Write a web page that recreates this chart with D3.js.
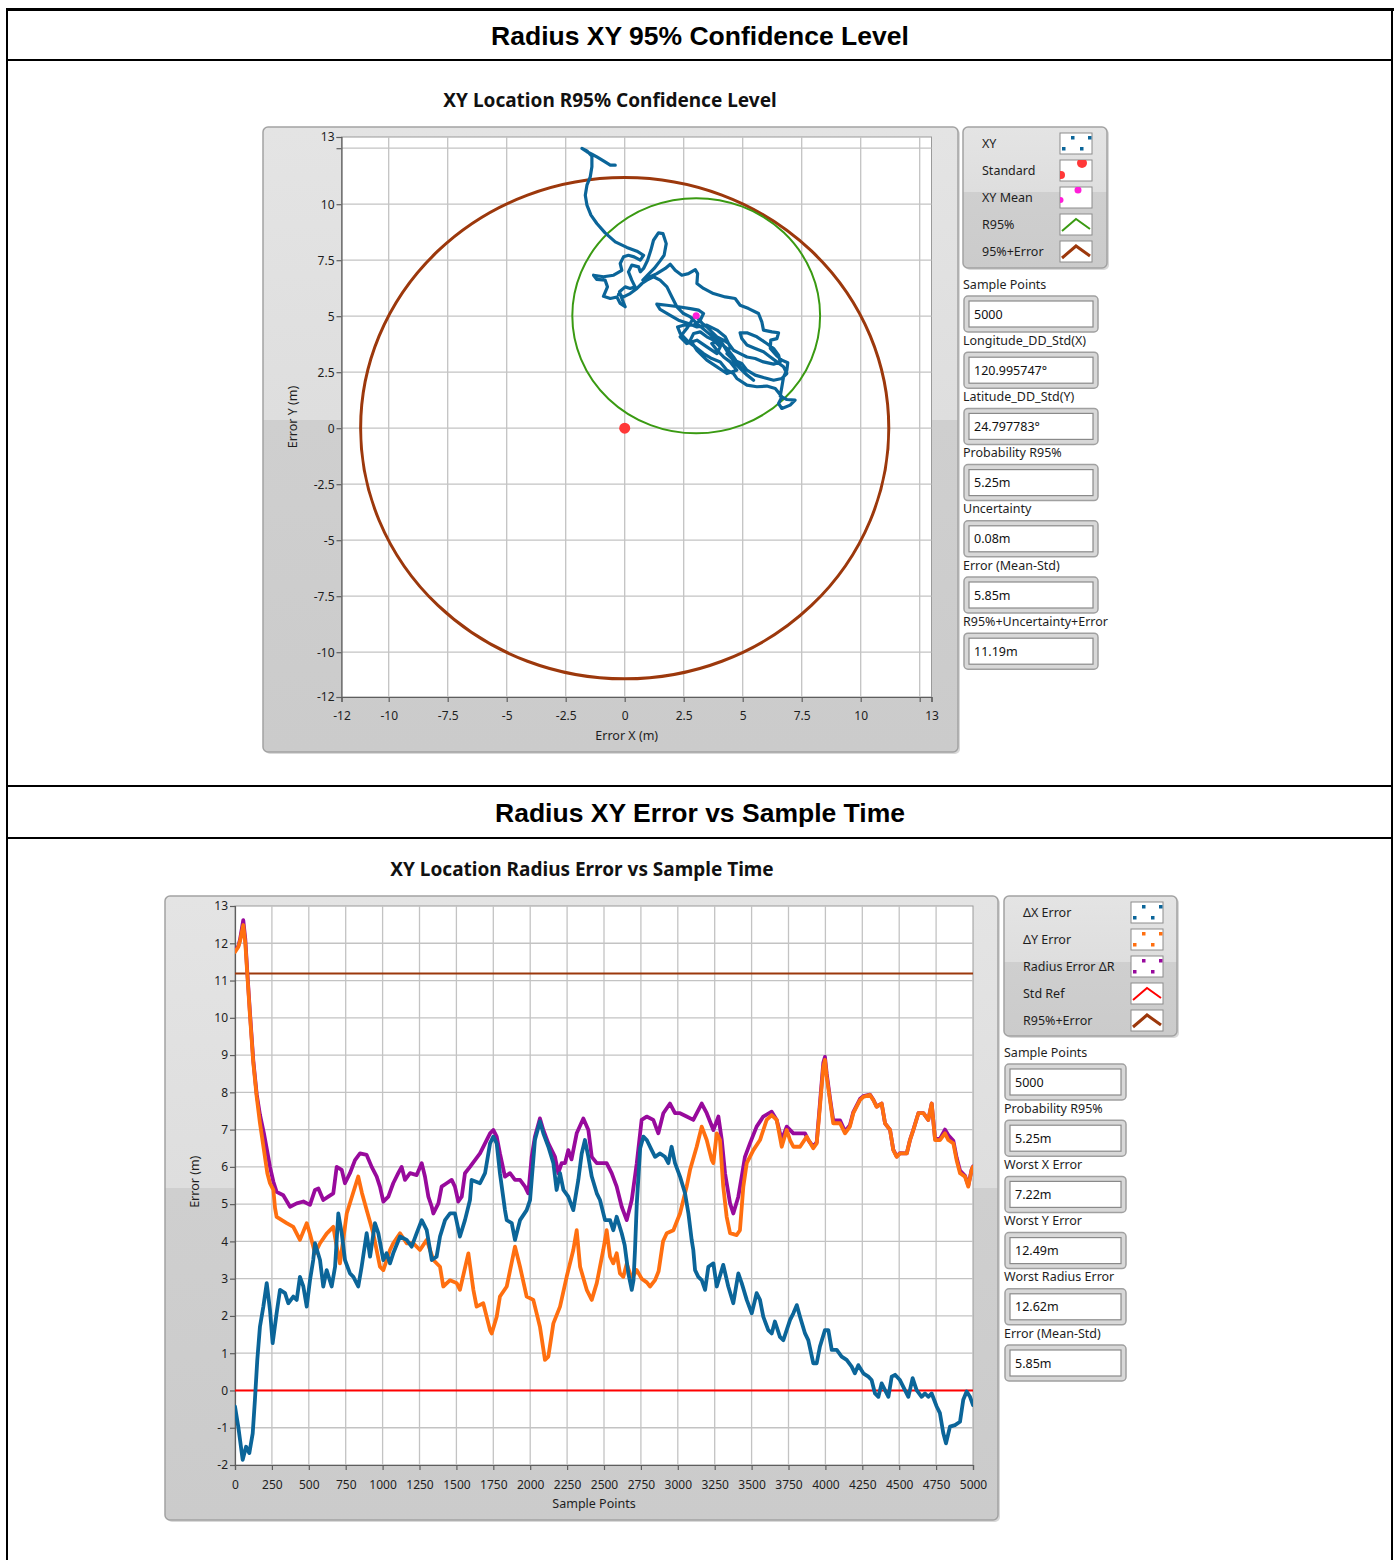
<!DOCTYPE html>
<html>
<head>
<meta charset="utf-8">
<script src="https://cdn.jsdelivr.net/npm/d3@7"></script>
<style>
  body { margin: 0; background: #fff; }
  svg text { font-family: "Noto Sans", "DejaVu Sans", sans-serif; }
</style>
</head>
<body>
<svg id="chart" width="1398" height="1560"></svg>
<script>
// ---------- summary values ----------
const samplePoints = 5000;
const meanXY = [3.03, 5.02];          // XY mean (m)
const standardXY = [0, 0];            // standard reference point (m)
const r95 = 5.25;                     // probability R95% (m)
const uncertainty = 0.08;             // (m)
const errorMeanStd = 5.85;            // (m)
const r95PlusError = 11.19;           // R95% + uncertainty + error (m)
const longitudeStd = "120.995747°";
const latitudeStd = "24.797783°";
const worstX = 7.22, worstY = 12.49, worstR = 12.62;

// ---------- axis ticks ----------
const xyTicks = [-12, -10, -7.5, -5, -2.5, 0, 2.5, 5, 7.5, 10, 12.5, 13];
const xyGrid = [-10, -7.5, -5, -2.5, 0, 2.5, 5, 7.5, 10, 12.5];
const sampleTicks = d3.range(0, 5001, 250);
const errorTicks = d3.range(-2, 14, 1);

// ---------- XY track of the position error (m) ----------
const xyTrack = [
  [-0.40,11.74],[-0.61,11.74],[-0.90,11.93],[-1.18,12.11],[-1.39,12.23],[-1.60,12.34],[-1.81,12.49],
  [-1.60,12.38],[-1.39,12.14],[-1.39,11.67],[-1.46,11.22],[-1.60,10.85],[-1.67,10.40],[-1.60,9.96],
  [-1.43,9.51],[-1.18,9.14],[-0.83,8.72],[-0.40,8.32],[0.09,8.07],[0.52,7.90],[0.80,7.72],[0.66,7.50],
  [0.40,7.65],[0.16,7.72],[-0.05,7.65],[-0.19,7.35],[-0.12,7.05],[-0.47,6.83],[-0.90,6.76],[-1.32,6.83],
  [-1.18,6.64],[-0.83,6.61],[-0.73,6.31],[-0.90,5.89],[-0.61,5.79],[-0.33,5.86],[-0.19,5.57],[0.02,5.42],
  [-0.12,5.79],[-0.22,6.09],[0.02,6.31],[0.23,6.24],[0.44,6.31],[0.30,6.61],[0.16,6.98],[0.30,7.28],
  [0.59,7.20],[0.66,6.98],[0.80,7.13],[0.97,7.50],[1.11,7.95],[1.22,8.39],[1.43,8.72],[1.62,8.69],
  [1.76,8.24],[1.67,7.72],[1.50,7.47],[1.25,7.13],[0.97,6.83],[0.77,6.61],[1.01,6.73],[1.36,6.90],
  [1.72,7.13],[1.93,7.32],[2.14,7.05],[2.42,6.83],[2.70,6.90],[2.99,7.08],[3.09,6.90],[3.06,6.46],
  [3.34,6.24],[3.76,6.01],[4.26,5.86],[4.68,5.79],[4.89,5.49],[5.25,5.34],[5.67,5.12],[5.81,4.75],
  [5.88,4.38],[6.24,4.30],[6.52,4.26],[6.45,4.00],[6.19,3.93],[6.17,3.56],[6.42,3.26],[6.66,3.04],
  [6.91,2.92],[6.87,2.59],[6.73,2.29],[6.66,1.85],[6.59,1.43],[6.87,1.28],[7.22,1.25],[7.01,1.03],
  [6.66,0.88],[6.52,1.10],[6.66,1.40],[6.38,1.77],[6.02,1.88],[5.60,1.85],[5.18,1.92],[4.75,2.22],
  [4.61,2.44],[4.33,2.59],[4.05,2.96],[3.69,3.11],[3.34,3.33],[2.99,3.63],[2.70,3.85],[2.35,4.23],
  [2.24,4.52],[2.49,4.60],[2.92,4.60],[3.20,4.82],[3.34,5.12],[3.13,5.27],[2.78,5.34],[2.28,5.42],
  [1.79,5.49],[1.36,5.54],[1.50,5.30],[1.93,5.04],[2.28,4.82],[2.70,4.67],[3.06,4.52],[3.48,4.60],
  [3.91,4.38],[4.26,4.08],[4.47,3.63],[4.33,3.33],[4.61,3.04],[4.96,2.89],[5.18,2.59],[5.53,2.37],
  [5.88,2.26],[6.31,2.14],[6.66,2.22],[6.87,2.44],[6.73,2.74],[6.45,2.96],[6.17,3.18],[5.88,3.41],
  [5.53,3.56],[5.18,3.71],[4.96,4.00],[4.89,4.26],[5.18,4.26],[5.60,4.08],[6.02,3.78],[6.31,3.56],
  [6.52,3.26],[6.59,2.96],[6.31,2.86],[5.88,2.96],[5.53,3.11],[5.18,3.18],[4.89,3.33],[4.61,3.48],
  [4.40,3.78],[4.19,3.93],[3.91,4.08],[3.69,4.30],[3.48,4.52],[3.27,4.70],[2.99,5.04],
  [2.63,4.45],[2.35,4.08],[2.63,3.78],[3.06,3.93],[3.48,3.63],[3.91,3.33],[4.05,3.63],[3.76,3.93],
  [3.48,4.08],[3.20,4.30],[2.92,4.23],[2.78,3.93],[3.06,3.48],[3.48,3.04],[3.91,2.74],[4.33,2.44],
  [4.75,2.59],[4.47,2.96],[4.19,3.18],[3.91,3.48],[3.69,3.78],[4.05,3.93],[4.40,3.33],[4.68,2.89],
  [5.11,2.44],[5.46,2.14],[5.18,2.37],[4.89,2.74],[4.61,3.18],[4.33,3.56],[3.91,3.93],[3.48,4.30],
  [3.06,4.67],[2.78,4.97],
  [2.49,5.12],[2.21,5.42],[2.00,5.86],[1.79,6.31],[1.50,6.61],[1.22,6.76],[0.94,6.61],[0.73,6.46],
  [0.52,6.24],[0.23,6.01],[-0.05,5.86],[-0.26,5.98]
];

// ---------- errors vs sample point: [sample, metres] ----------
const deltaX = [
  [0,-0.43],[22,-0.97],[52,-1.86],[75,-1.51],[97,-1.68],[120,-1.15],[135,-0.25],[151,0.82],[169,1.71],
  [192,2.25],[215,2.88],[237,2.16],[255,1.27],[282,2.07],[305,2.70],[339,2.61],[361,2.34],[395,2.52],
  [418,2.43],[440,3.05],[463,2.79],[486,2.25],[508,2.96],[530,3.50],[542,3.95],[576,3.50],[598,2.79],
  [621,3.23],[655,2.79],[678,3.32],[700,4.75],[723,4.22],[745,3.50],[779,3.14],[802,3.05],[835,2.79],
  [858,3.32],[892,4.22],[915,3.59],[948,4.49],[971,4.22],[1005,3.50],[1027,3.68],[1050,3.41],[1072,3.68],
  [1118,4.13],[1163,4.04],[1197,3.86],[1231,4.22],[1265,4.57],[1299,4.30],[1333,3.50],[1366,3.59],
  [1389,4.13],[1423,4.57],[1457,4.75],[1490,4.75],[1524,4.13],[1558,4.57],[1592,5.11],[1603,5.65],
  [1660,5.56],[1694,5.83],[1728,6.63],[1750,6.81],[1773,6.63],[1795,5.83],[1829,4.84],[1841,4.57],
  [1875,4.49],[1897,4.04],[1931,4.57],[1976,4.84],[1999,5.11],[2010,5.65],[2032,6.72],[2066,7.22],
  [2089,6.90],[2123,6.54],[2157,6.10],[2179,5.38],[2202,5.83],[2225,5.38],[2258,5.20],[2292,4.84],
  [2326,5.65],[2349,6.36],[2371,6.72],[2394,6.27],[2417,5.74],[2451,5.29],[2473,5.11],[2507,4.57],
  [2541,4.57],[2563,4.30],[2586,4.66],[2620,4.22],[2640,3.90],[2665,3.14],[2688,2.70],[2700,2.96],
  [2710,3.77],[2722,5.00],[2745,6.50],[2767,6.81],[2790,6.72],[2823,6.45],[2846,6.27],[2880,6.36],
  [2913,6.27],[2936,6.10],[2958,6.54],[2981,6.10],[3015,5.74],[3049,5.29],[3072,4.75],[3094,4.04],
  [3105,3.77],[3117,3.23],[3139,3.05],[3162,2.96],[3185,2.70],[3207,3.32],[3241,3.41],[3264,2.79],
  [3308,3.37],[3342,2.79],[3376,2.34],[3410,3.14],[3433,2.88],[3467,2.43],[3501,2.07],[3534,2.61],
  [3557,2.43],[3579,1.98],[3613,1.62],[3636,1.53],[3658,1.85],[3692,1.44],[3715,1.35],[3760,1.89],
  [3783,2.07],[3806,2.29],[3828,1.98],[3862,1.53],[3884,1.35],[3918,0.73],[3941,0.73],[3963,1.18],
  [3997,1.62],[4020,1.62],[4043,1.09],[4077,1.09],[4110,0.91],[4144,0.82],[4178,0.64],[4200,0.46],
  [4223,0.68],[4257,0.46],[4291,0.37],[4313,0.28],[4336,-0.08],[4359,-0.17],[4381,0.19],[4404,0.01],
  [4427,-0.17],[4449,0.37],[4472,0.42],[4505,0.28],[4539,0.01],[4562,-0.17],[4591,0.33],[4618,0.01],
  [4652,-0.17],[4675,-0.08],[4697,-0.17],[4720,-0.08],[4754,-0.43],[4776,-0.61],[4799,-1.15],
  [4817,-1.42],[4844,-0.97],[4878,-0.93],[4912,-0.84],[4934,-0.25],[4957,-0.03],[4980,-0.17],[5000,-0.39]
];

const deltaY = [
  [0,11.77],[22,11.90],[34,12.06],[56,12.49],[70,12.00],[83,11.19],[102,10.03],[124,8.79],[147,7.88],
  [169,7.18],[196,6.45],[219,5.83],[237,5.56],[260,5.38],[271,4.90],[282,4.66],[350,4.49],[395,4.39],
  [440,4.04],[486,4.49],[508,4.20],[542,3.68],[576,3.95],[621,4.21],[666,4.39],[689,3.86],[711,3.41],
  [745,4.39],[757,4.75],[800,5.30],[835,5.74],[860,5.30],[892,4.84],[937,4.21],[982,3.32],[1005,3.23],
  [1050,3.77],[1072,3.95],[1118,4.22],[1163,3.95],[1208,3.95],[1253,3.77],[1299,4.04],[1344,3.50],
  [1389,3.32],[1411,2.79],[1457,2.96],[1502,2.88],[1524,2.70],[1581,3.68],[1615,2.70],[1637,2.25],
  [1682,2.34],[1728,1.62],[1739,1.53],[1773,1.98],[1795,2.52],[1841,2.79],[1897,3.86],[1931,3.32],
  [1976,2.52],[2021,2.43],[2066,1.71],[2100,0.82],[2123,0.91],[2157,1.80],[2202,2.25],[2247,3.05],
  [2292,3.77],[2315,4.30],[2338,3.32],[2383,2.70],[2417,2.43],[2451,2.88],[2495,3.77],[2518,4.30],
  [2541,3.59],[2563,3.41],[2586,3.68],[2608,3.14],[2631,3.05],[2654,3.40],[2688,3.00],[2722,3.23],
  [2755,3.00],[2790,2.90],[2812,2.79],[2846,2.96],[2870,3.20],[2900,4.00],[2925,4.22],[2970,4.30],
  [3015,4.75],[3060,5.47],[3083,5.92],[3128,6.54],[3162,7.08],[3196,6.72],[3230,6.18],[3241,6.10],
  [3264,6.90],[3286,6.72],[3308,5.47],[3331,4.66],[3354,4.22],[3399,4.17],[3421,4.30],[3444,5.47],
  [3467,6.10],[3512,6.45],[3557,6.72],[3602,7.26],[3636,7.39],[3670,7.26],[3704,6.54],[3738,6.99],
  [3760,6.72],[3783,6.54],[3828,6.54],[3873,6.81],[3918,6.50],[3941,6.63],[3963,7.61],[3986,8.69],
  [3997,8.87],[4009,8.42],[4031,7.79],[4053,7.17],[4099,7.17],[4133,6.90],[4166,7.08],[4189,7.44],
  [4234,7.79],[4257,7.88],[4302,7.93],[4325,7.79],[4347,7.61],[4381,7.70],[4404,7.17],[4438,6.99],
  [4460,6.45],[4483,6.27],[4505,6.36],[4551,6.36],[4573,6.72],[4596,6.99],[4630,7.44],[4664,7.44],
  [4697,7.26],[4720,7.70],[4743,6.72],[4776,6.72],[4810,6.90],[4833,6.72],[4867,6.63],[4889,6.18],
  [4912,5.83],[4946,5.74],[4968,5.47],[4991,5.92],[5000,6.00]
];

const deltaR = [
  [0,11.80],[22,11.92],[34,12.10],[56,12.62],[70,12.10],[83,11.25],[102,10.10],[124,8.85],[147,7.95],
  [169,7.40],[196,6.90],[219,6.40],[237,6.00],[260,5.60],[282,5.33],[327,5.24],[373,4.93],[418,5.02],
  [463,5.07],[508,4.98],[542,5.38],[565,5.42],[598,5.11],[632,5.20],[666,5.29],[689,6.00],[723,5.92],
  [745,5.56],[779,5.83],[813,6.18],[847,6.36],[892,6.32],[926,6.00],[960,5.74],[982,5.47],[1005,5.07],
  [1039,5.20],[1072,5.56],[1106,5.83],[1129,6.00],[1152,5.65],[1186,5.83],[1231,5.78],[1265,6.10],
  [1287,5.74],[1310,5.20],[1333,4.93],[1344,4.75],[1378,5.02],[1400,5.47],[1434,5.56],[1468,5.65],
  [1490,5.47],[1513,5.07],[1536,5.20],[1558,5.83],[1592,6.00],[1626,6.18],[1660,6.36],[1694,6.63],
  [1728,6.90],[1750,6.99],[1773,6.81],[1795,6.36],[1829,5.74],[1863,5.83],[1897,5.65],[1931,5.65],
  [1965,5.47],[1987,5.29],[2010,6.27],[2032,6.81],[2066,7.30],[2089,6.99],[2123,6.63],[2168,6.27],
  [2190,5.83],[2213,6.10],[2236,6.10],[2258,6.45],[2280,6.20],[2315,6.90],[2360,7.30],[2394,6.99],
  [2417,6.27],[2451,6.10],[2518,6.10],[2552,5.83],[2586,5.47],[2620,4.93],[2654,4.57],[2688,5.11],
  [2722,6.10],[2755,7.26],[2789,7.35],[2834,7.26],[2868,6.90],[2902,7.44],[2947,7.70],[2981,7.44],
  [3015,7.44],[3060,7.35],[3105,7.26],[3162,7.70],[3196,7.44],[3241,6.99],[3275,7.35],[3298,6.72],
  [3320,5.83],[3354,5.02],[3376,4.75],[3410,5.20],[3433,5.74],[3455,6.27],[3489,6.63],[3534,7.08],
  [3579,7.35],[3636,7.48],[3670,7.26],[3704,6.72],[3738,7.08],[3783,6.90],[3828,6.90],[3862,6.90],
  [3884,6.72],[3918,6.54],[3941,6.66],[3963,7.70],[3986,8.80],[3997,8.95],[4009,8.50],[4031,7.85],
  [4053,7.25],[4099,7.25],[4133,6.95],[4166,7.12],[4189,7.47],[4234,7.82],[4257,7.90],[4302,7.94],
  [4325,7.80],[4347,7.62],[4381,7.70],[4404,7.17],[4438,6.99],[4460,6.46],[4483,6.28],[4505,6.37],
  [4551,6.36],[4573,6.72],[4596,7.00],[4630,7.44],[4664,7.44],[4697,7.26],[4720,7.70],[4743,6.75],
  [4776,6.75],[4810,7.00],[4833,6.85],[4867,6.70],[4889,6.25],[4912,5.90],[4946,5.76],[4968,5.50],
  [4991,5.93],[5000,6.01]
];

// ---------- colours ----------
const C = {
  blue: "#0b6599", orange: "#ff6f10", purple: "#980a9c", red: "#ff1a1a",
  green: "#3a9a12", brown: "#9c380c", magenta: "#ff1fd8",
  grid: "#c3c3c3", axis: "#5e5e5e", text: "#1e1e1e"
};

const svg = d3.select("#chart");
const defs = svg.append("defs");

// ---------- page frame ----------
const frame = svg.append("g").attr("stroke", "#000").attr("fill", "none");
frame.append("line").attr("x1", 6).attr("x2", 1394).attr("y1", 9.5).attr("y2", 9.5).attr("stroke-width", 3);
frame.append("line").attr("x1", 7).attr("x2", 7).attr("y1", 8).attr("y2", 1560).attr("stroke-width", 2);
frame.append("line").attr("x1", 1392).attr("x2", 1392).attr("y1", 8).attr("y2", 1560).attr("stroke-width", 2);
[60, 786, 838].forEach(y =>
  frame.append("line").attr("x1", 6).attr("x2", 1393).attr("y1", y).attr("y2", y).attr("stroke-width", 2));

svg.append("text").attr("x", 700).attr("y", 45).attr("text-anchor", "middle")
  .style("font-family", "'Liberation Sans', Arial, sans-serif").style("font-weight", "bold")
  .style("font-size", "26.5px").attr("fill", "#000").text("Radius XY 95% Confidence Level");
svg.append("text").attr("x", 700).attr("y", 822).attr("text-anchor", "middle")
  .style("font-family", "'Liberation Sans', Arial, sans-serif").style("font-weight", "bold")
  .style("font-size", "26.5px").attr("fill", "#000").text("Radius XY Error vs Sample Time");

// ---------- helpers ----------
let gradId = 0;
function panel(x, y, w, h, split) {
  const id = "pg" + (gradId++);
  const g = defs.append("linearGradient").attr("id", id).attr("x1", 0).attr("y1", 0).attr("x2", 0).attr("y2", 1);
  g.append("stop").attr("offset", 0).attr("stop-color", "#e4e4e4");
  g.append("stop").attr("offset", split).attr("stop-color", "#dedede");
  g.append("stop").attr("offset", split).attr("stop-color", "#cfcfcf");
  g.append("stop").attr("offset", 1).attr("stop-color", "#cbcbcb");
  svg.append("rect").attr("x", x + 2).attr("y", y + 2).attr("width", w).attr("height", h)
    .attr("rx", 5).attr("fill", "#d9d9d9");
  svg.append("rect").attr("x", x).attr("y", y).attr("width", w).attr("height", h)
    .attr("rx", 5).attr("fill", `url(#${id})`).attr("stroke", "#a2a2a2").attr("stroke-width", 1.5);
}

function styleAxis(sel) {
  sel.select(".domain").attr("stroke", C.axis).attr("stroke-width", 1.2);
  sel.selectAll(".tick line").attr("stroke", C.axis).attr("stroke-width", 1.2);
  sel.selectAll(".tick text").attr("fill", C.text).style("font-size", "12px")
    .style("font-family", "'Noto Sans', sans-serif");
}

function swatch(x, y, kind, color) {
  const g = svg.append("g").attr("transform", `translate(${x},${y})`);
  const cid = "sw" + (gradId++);
  defs.append("clipPath").attr("id", cid).append("rect").attr("width", 32).attr("height", 21);
  g.append("rect").attr("width", 32).attr("height", 21).attr("fill", "#fff")
    .attr("stroke", "#8c8c8c").attr("stroke-width", 1);
  const inner = g.append("g").attr("clip-path", `url(#${cid})`);
  if (kind === "dots") {
    [[11, 3], [28, 3], [2, 14], [20, 14]].forEach(([dx, dy]) =>
      inner.append("rect").attr("x", dx).attr("y", dy).attr("width", 3.5).attr("height", 3.5).attr("fill", color));
  } else if (kind === "bigdot") {
    inner.append("circle").attr("cx", 22).attr("cy", 3).attr("r", 5).attr("fill", color);
    inner.append("circle").attr("cx", 1).attr("cy", 15).attr("r", 4).attr("fill", color);
  } else if (kind === "smalldot") {
    inner.append("circle").attr("cx", 18).attr("cy", 3).attr("r", 3.5).attr("fill", color);
    inner.append("circle").attr("cx", 0.5).attr("cy", 13).attr("r", 3).attr("fill", color);
  } else {
    inner.append("polyline").attr("points", "2,17 16,5 30,15").attr("fill", "none")
      .attr("stroke", color).attr("stroke-width", kind === "thick" ? 3 : 2);
  }
}

function legend(x, y, w, h, split, rows, textX, swX) {
  panel(x, y, w, h, split);
  rows.forEach((r, i) => {
    const cy = y + 16 + i * 27;
    svg.append("text").attr("x", textX).attr("y", cy + 4.5).attr("fill", C.text)
      .style("font-size", "12.5px").text(r.label);
    swatch(swX, cy - 10, r.kind, r.color);
  });
}

function indicators(x, y0, w, items) {
  items.forEach((it, i) => {
    const ly = y0 + i * 56.2;
    svg.append("text").attr("x", x).attr("y", ly + 4.5).attr("fill", C.text)
      .style("font-size", "12.5px").text(it[0]);
    const by = ly + 12;
    svg.append("rect").attr("x", x + 1).attr("y", by).attr("width", w).attr("height", 36)
      .attr("rx", 4).attr("fill", "#d8d8d8").attr("stroke", "#a0a0a0").attr("stroke-width", 1.5);
    svg.append("rect").attr("x", x + 6).attr("y", by + 5).attr("width", w - 10).attr("height", 26)
      .attr("fill", "#fff").attr("stroke", "#8a8a8a").attr("stroke-width", 1.2);
    svg.append("text").attr("x", x + 11).attr("y", by + 22.5).attr("fill", "#111")
      .style("font-size", "12.5px").text(it[1]);
  });
}

// =============== XY confidence chart ===============
const xS = d3.scaleLinear().domain([-12, 13]).range([341.5, 931.5]);
const yS = d3.scaleLinear().domain([-12, 13]).range([697, 137]);

panel(263, 127, 695, 625, 0.469);
svg.append("rect").attr("x", xS(-12)).attr("y", yS(13)).attr("width", xS(13) - xS(-12))
  .attr("height", yS(-12) - yS(13)).attr("fill", "#fff").attr("stroke", "#9a9a9a");

const g1 = svg.append("g");
g1.selectAll(".gx").data(xyGrid).join("line")
  .attr("x1", d => xS(d)).attr("x2", d => xS(d)).attr("y1", yS(13)).attr("y2", yS(-12))
  .attr("stroke", C.grid).attr("stroke-width", 1.3);
g1.selectAll(".gy").data(xyGrid).join("line")
  .attr("y1", d => yS(d)).attr("y2", d => yS(d)).attr("x1", xS(-12)).attr("x2", xS(13))
  .attr("stroke", C.grid).attr("stroke-width", 1.3);

const fmtXY = d => d === 12.5 ? "" : String(d);
svg.append("g").attr("transform", `translate(${xS(-12)},0)`)
  .call(d3.axisLeft(yS).tickValues(xyTicks).tickSize(5).tickPadding(2).tickFormat(fmtXY)).call(styleAxis);
svg.append("g").attr("transform", `translate(0,${yS(-12)})`)
  .call(d3.axisBottom(xS).tickValues(xyTicks).tickSize(5).tickPadding(9).tickFormat(fmtXY)).call(styleAxis);

defs.append("clipPath").attr("id", "clipXY").append("rect")
  .attr("x", xS(-12)).attr("y", yS(13)).attr("width", xS(13) - xS(-12)).attr("height", yS(-12) - yS(13));
const plotXY = svg.append("g").attr("clip-path", "url(#clipXY)");

// R95% + uncertainty + error circle around the standard point
plotXY.append("ellipse")
  .attr("cx", xS(standardXY[0])).attr("cy", yS(standardXY[1]))
  .attr("rx", xS(r95PlusError) - xS(0)).attr("ry", yS(0) - yS(r95PlusError))
  .attr("fill", "none").attr("stroke", C.brown).attr("stroke-width", 3);
// R95% circle around the mean position
plotXY.append("ellipse")
  .attr("cx", xS(meanXY[0])).attr("cy", yS(meanXY[1]))
  .attr("rx", xS(r95) - xS(0)).attr("ry", yS(0) - yS(r95))
  .attr("fill", "none").attr("stroke", C.green).attr("stroke-width", 2);

plotXY.append("path").datum(xyTrack)
  .attr("d", d3.line().x(d => xS(d[0])).y(d => yS(d[1])))
  .attr("fill", "none").attr("stroke", C.blue).attr("stroke-width", 3.2)
  .attr("stroke-linejoin", "round").attr("stroke-linecap", "round");

plotXY.append("circle").attr("cx", xS(standardXY[0])).attr("cy", yS(standardXY[1]))
  .attr("r", 5.5).attr("fill", "#ff3838");
plotXY.append("circle").attr("cx", xS(meanXY[0])).attr("cy", yS(meanXY[1]))
  .attr("r", 3.5).attr("fill", C.magenta);

svg.append("text").attr("x", 610).attr("y", 107).attr("text-anchor", "middle")
  .style("font-size", "19px").style("font-weight", "bold").attr("fill", "#111")
  .text("XY Location R95% Confidence Level");
svg.append("text").attr("x", xS(0) + 2).attr("y", 740).attr("text-anchor", "middle")
  .style("font-size", "12.5px").attr("fill", C.text).text("Error X (m)");
svg.append("text").attr("transform", `translate(297,${yS(0.5)}) rotate(-90)`).attr("text-anchor", "middle")
  .style("font-size", "12.5px").attr("fill", C.text).text("Error Y (m)");

legend(963, 127, 144, 141, 0.46, [
  { label: "XY", kind: "dots", color: C.blue },
  { label: "Standard", kind: "bigdot", color: "#ff3838" },
  { label: "XY Mean", kind: "smalldot", color: C.magenta },
  { label: "R95%", kind: "line", color: C.green },
  { label: "95%+Error", kind: "thick", color: C.brown }
], 982, 1060);

indicators(963, 284, 134, [
  ["Sample Points", String(samplePoints)],
  ["Longitude_DD_Std(X)", longitudeStd],
  ["Latitude_DD_Std(Y)", latitudeStd],
  ["Probability R95%", r95.toFixed(2) + "m"],
  ["Uncertainty", uncertainty.toFixed(2) + "m"],
  ["Error (Mean-Std)", errorMeanStd.toFixed(2) + "m"],
  ["R95%+Uncertainty+Error", r95PlusError.toFixed(2) + "m"]
]);

// =============== error vs sample chart ===============
const xB = d3.scaleLinear().domain([0, 5000]).range([235, 973]);
const yB = d3.scaleLinear().domain([-2, 13]).range([1465, 906]);

panel(165, 896, 833, 624, 0.468);
svg.append("rect").attr("x", xB(0)).attr("y", yB(13)).attr("width", xB(5000) - xB(0))
  .attr("height", yB(-2) - yB(13)).attr("fill", "#fff").attr("stroke", "#9a9a9a");

const g2 = svg.append("g");
g2.selectAll(".gx").data(sampleTicks.slice(1, -1)).join("line")
  .attr("x1", d => xB(d)).attr("x2", d => xB(d)).attr("y1", yB(13)).attr("y2", yB(-2))
  .attr("stroke", C.grid).attr("stroke-width", 1.3);
g2.selectAll(".gy").data(errorTicks.slice(1, -1)).join("line")
  .attr("y1", d => yB(d)).attr("y2", d => yB(d)).attr("x1", xB(0)).attr("x2", xB(5000))
  .attr("stroke", C.grid).attr("stroke-width", 1.3);

svg.append("g").attr("transform", `translate(${xB(0)},0)`)
  .call(d3.axisLeft(yB).tickValues(errorTicks).tickSize(5).tickPadding(2).tickFormat(d => String(d)))
  .call(styleAxis);
svg.append("g").attr("transform", `translate(0,${yB(-2)})`)
  .call(d3.axisBottom(xB).tickValues(sampleTicks).tickSize(5).tickPadding(10).tickFormat(d => String(d)))
  .call(styleAxis);

defs.append("clipPath").attr("id", "clipB").append("rect")
  .attr("x", xB(0)).attr("y", yB(13)).attr("width", xB(5000) - xB(0)).attr("height", yB(-2) - yB(13));
const plotB = svg.append("g").attr("clip-path", "url(#clipB)");

const lineB = d3.line().x(d => xB(d[0])).y(d => yB(d[1]));
plotB.append("line").attr("x1", xB(0)).attr("x2", xB(samplePoints))
  .attr("y1", yB(r95PlusError)).attr("y2", yB(r95PlusError)).attr("stroke", C.brown).attr("stroke-width", 2);
plotB.append("line").attr("x1", xB(0)).attr("x2", xB(samplePoints))
  .attr("y1", yB(0)).attr("y2", yB(0)).attr("stroke", "#ff0000").attr("stroke-width", 2);

[[deltaR, C.purple], [deltaY, C.orange], [deltaX, C.blue]].forEach(([data, color]) => {
  plotB.append("path").datum(data).attr("d", lineB)
    .attr("fill", "none").attr("stroke", color).attr("stroke-width", 3.8)
    .attr("stroke-linejoin", "round").attr("stroke-linecap", "round");
});

svg.append("text").attr("x", 582).attr("y", 876).attr("text-anchor", "middle")
  .style("font-size", "19px").style("font-weight", "bold").attr("fill", "#111")
  .text("XY Location Radius Error vs Sample Time");
svg.append("text").attr("x", 594).attr("y", 1508).attr("text-anchor", "middle")
  .style("font-size", "12.5px").attr("fill", C.text).text("Sample Points");
svg.append("text").attr("transform", `translate(199,${yB(5.6)}) rotate(-90)`).attr("text-anchor", "middle")
  .style("font-size", "12.5px").attr("fill", C.text).text("Error (m)");

legend(1004, 896, 173, 140, 0.47, [
  { label: "ΔX Error", kind: "dots", color: C.blue },
  { label: "ΔY Error", kind: "dots", color: C.orange },
  { label: "Radius Error ΔR", kind: "dots", color: C.purple },
  { label: "Std Ref", kind: "line", color: "#ff0000" },
  { label: "R95%+Error", kind: "thick", color: C.brown }
], 1023, 1131);

indicators(1004, 1052, 121, [
  ["Sample Points", String(samplePoints)],
  ["Probability R95%", r95.toFixed(2) + "m"],
  ["Worst X Error", worstX.toFixed(2) + "m"],
  ["Worst Y Error", worstY.toFixed(2) + "m"],
  ["Worst Radius Error", worstR.toFixed(2) + "m"],
  ["Error (Mean-Std)", errorMeanStd.toFixed(2) + "m"]
]);
</script>
</body>
</html>
